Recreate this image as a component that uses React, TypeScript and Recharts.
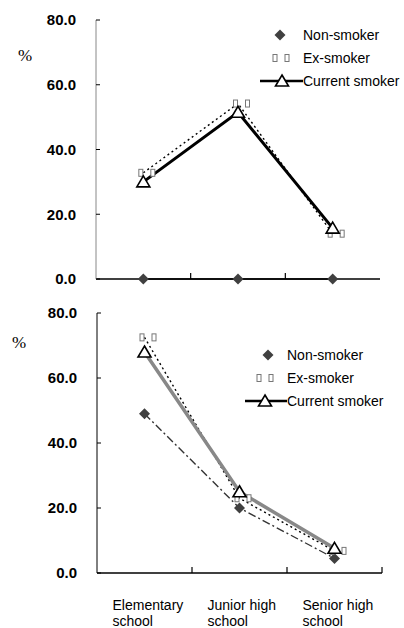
import React from "react";
import { LineChart, Line, XAxis, YAxis } from "recharts";

const categories = ["Elementary school", "Junior high school", "Senior high school"];
const catLines = [["Elementary", "school"], ["Junior high", "school"], ["Senior high", "school"]];
const yTicks = [0, 20, 40, 60, 80];
const seriesNames = ["Non-smoker", "Ex-smoker", "Current smoker"];

// upper panel
const topNon = [0, 0, 0];
const topEx = [32.8, 54.2, 14];
const topCur = [30, 51.5, 15.7];

// lower panel
const botNon = [49, 20, 4.5];
const botEx = [72.5, 23, 6.8];
const botCur = [68, 25, 7.6];

const FONT = "'Liberation Sans', Arial, sans-serif";

const toRows = (non: number[], ex: number[], cur: number[]) =>
  categories.map((c, i) => ({ x: i + 0.5, name: c, non: non[i], ex: ex[i], cur: cur[i] }));

const topData = toRows(topNon, topEx, topCur);
const botData = toRows(botNon, botEx, botCur);

// band centres carry labels, band edges carry the small upward tick marks
const topXTicks = [0.5, 1, 1.5, 2, 2.5];
const botXTicks = [0.5, 1, 1.5, 2, 2.5, 3];

const diamondPath = (cx: number, cy: number, r = 5.5) =>
  `M${cx},${cy - r} L${cx + r},${cy} L${cx},${cy + r} L${cx - r},${cy} Z`;
const triPath = (cx: number, cy: number) =>
  `M${cx},${cy - 6} L${cx + 6.5},${cy + 5} L${cx - 6.5},${cy + 5} Z`;

const Diamond = (p: any) => (
  <path key={`d${p.index}`} d={diamondPath(p.cx, p.cy)} fill="#404040" />
);
const Tri = (p: any) => (
  <path key={`t${p.index}`} d={triPath(p.cx, p.cy)} fill="#fff" stroke="#000" strokeWidth={1.6} />
);
// the ex-smoker marker shows as two hollow boxes
const BoxPair = ({ x, y }: { x: number; y: number }) => (
  <g fill="#fff" stroke="#777" strokeWidth={1}>
    <rect x={x - 8.5} y={y - 3.5} width={4} height={7} />
    <rect x={x + 3.5} y={y - 3.5} width={4} height={7} />
  </g>
);
const Boxes = (p: any) => <BoxPair key={`b${p.index}`} x={p.cx + 4} y={p.cy} />;

const makeXTick = (withLabels: boolean) => (p: any) => {
  const v = p.payload.value;
  if (Number.isInteger(v)) {
    return <line x1={p.x} x2={p.x} y1={p.y} y2={p.y - 6} stroke="#000" strokeWidth={1.2} />;
  }
  if (!withLabels) return <g />;
  const lines = catLines[Math.round(v - 0.5)] ?? [];
  return (
    <text x={p.x - 32} y={p.y} fontSize={14} fontFamily={FONT} fill="#000" textAnchor="start">
      <tspan x={p.x - 32} dy={37}>{lines[0]}</tspan>
      <tspan x={p.x - 32} dy={16}>{lines[1]}</tspan>
    </text>
  );
};

type LegendPos = { left: number; top: number; dia: number; box: number; line: number; tri: number; text: number; size: number };

function LegendBox({ left, top, dia, box, line, tri, text, size }: LegendPos) {
  return (
    <svg width={200} height={75} style={{ position: "absolute", left, top, overflow: "visible" }}>
      <path d={diamondPath(dia, 15)} fill="#404040" />
      <text x={text} y={15} dominantBaseline="central" fontSize={size} fontFamily={FONT}>{seriesNames[0]}</text>
      <BoxPair x={box} y={38} />
      <text x={text} y={38} dominantBaseline="central" fontSize={size} fontFamily={FONT}>{seriesNames[1]}</text>
      <line x1={line} x2={text} y1={61} y2={61} stroke="#000" strokeWidth={2.5} />
      <path d={triPath(tri, 61)} fill="#fff" stroke="#000" strokeWidth={1.6} />
      <text x={text} y={61} dominantBaseline="central" fontSize={size} fontFamily={FONT}>{seriesNames[2]}</text>
    </svg>
  );
}

const yAxisProps = {
  type: "number" as const,
  domain: [0, 80],
  ticks: yTicks,
  interval: 0 as const,
  tickSize: -4,
  tickMargin: 24,
  tickFormatter: (v: number) => v.toFixed(1),
  tick: { fontSize: 15, fontWeight: "bold", fill: "#000", fontFamily: FONT },
  tickLine: { stroke: "#000" },
};

export default function App() {
  return (
    <div style={{ position: "absolute", left: 0, top: 0, width: 404, height: 628, background: "#fff", overflow: "hidden" }}>
      <div style={{ position: "absolute", left: 18, top: 46, fontSize: 17, fontFamily: "'Liberation Serif', serif" }}>%</div>
      <div style={{ position: "absolute", left: 12, top: 333, fontSize: 17, fontFamily: "'Liberation Serif', serif" }}>%</div>

      <div style={{ position: "absolute", left: 0, top: 0 }}>
        <LineChart width={404} height={300} data={topData} margin={{ top: 20, right: 24, bottom: 0, left: 0 }}>
          <XAxis type="number" dataKey="x" domain={[0, 3]} ticks={topXTicks} interval={0} height={21}
            tickSize={0} tickMargin={0} tickLine={false} tick={makeXTick(false)}
            axisLine={{ stroke: "#000", strokeWidth: 1.4 }} />
          <YAxis {...yAxisProps} width={96} axisLine={{ stroke: "#888" }} />
          <Line dataKey="non" stroke="#000" strokeWidth={1.4}
            dot={Diamond} activeDot={false} isAnimationActive={false} />
          <Line dataKey="ex" stroke="#000" strokeWidth={1.4} strokeDasharray="2 3"
            dot={Boxes} activeDot={false} isAnimationActive={false} />
          <Line dataKey="cur" stroke="#000" strokeWidth={3}
            dot={Tri} activeDot={false} isAnimationActive={false} />
        </LineChart>
      </div>
      <LegendBox left={250} top={20} dia={30} box={31.5} line={10} tri={32} text={53} size={14} />

      <div style={{ position: "absolute", left: 0, top: 300 }}>
        <LineChart width={404} height={328} data={botData} margin={{ top: 13, right: 22, bottom: 0, left: 0 }}>
          <XAxis type="number" dataKey="x" domain={[0, 3]} ticks={botXTicks} interval={0} height={55}
            tickSize={0} tickMargin={0} tickLine={false} tick={makeXTick(true)}
            axisLine={{ stroke: "#000", strokeWidth: 1.4 }} />
          <YAxis {...yAxisProps} width={97} axisLine={{ stroke: "#000" }} />
          <Line dataKey="non" stroke="#333" strokeWidth={1.4} strokeDasharray="8 3 2 3"
            dot={Diamond} activeDot={false} isAnimationActive={false} />
          <Line dataKey="ex" stroke="#000" strokeWidth={1.4} strokeDasharray="2 3"
            dot={Boxes} activeDot={false} isAnimationActive={false} />
          <Line dataKey="cur" stroke="#888" strokeWidth={3.5}
            dot={Tri} activeDot={false} isAnimationActive={false} />
        </LineChart>
      </div>
      <LegendBox left={240} top={340} dia={28} box={25.5} line={5} tri={25} text={47} size={14} />
    </div>
  );
}
